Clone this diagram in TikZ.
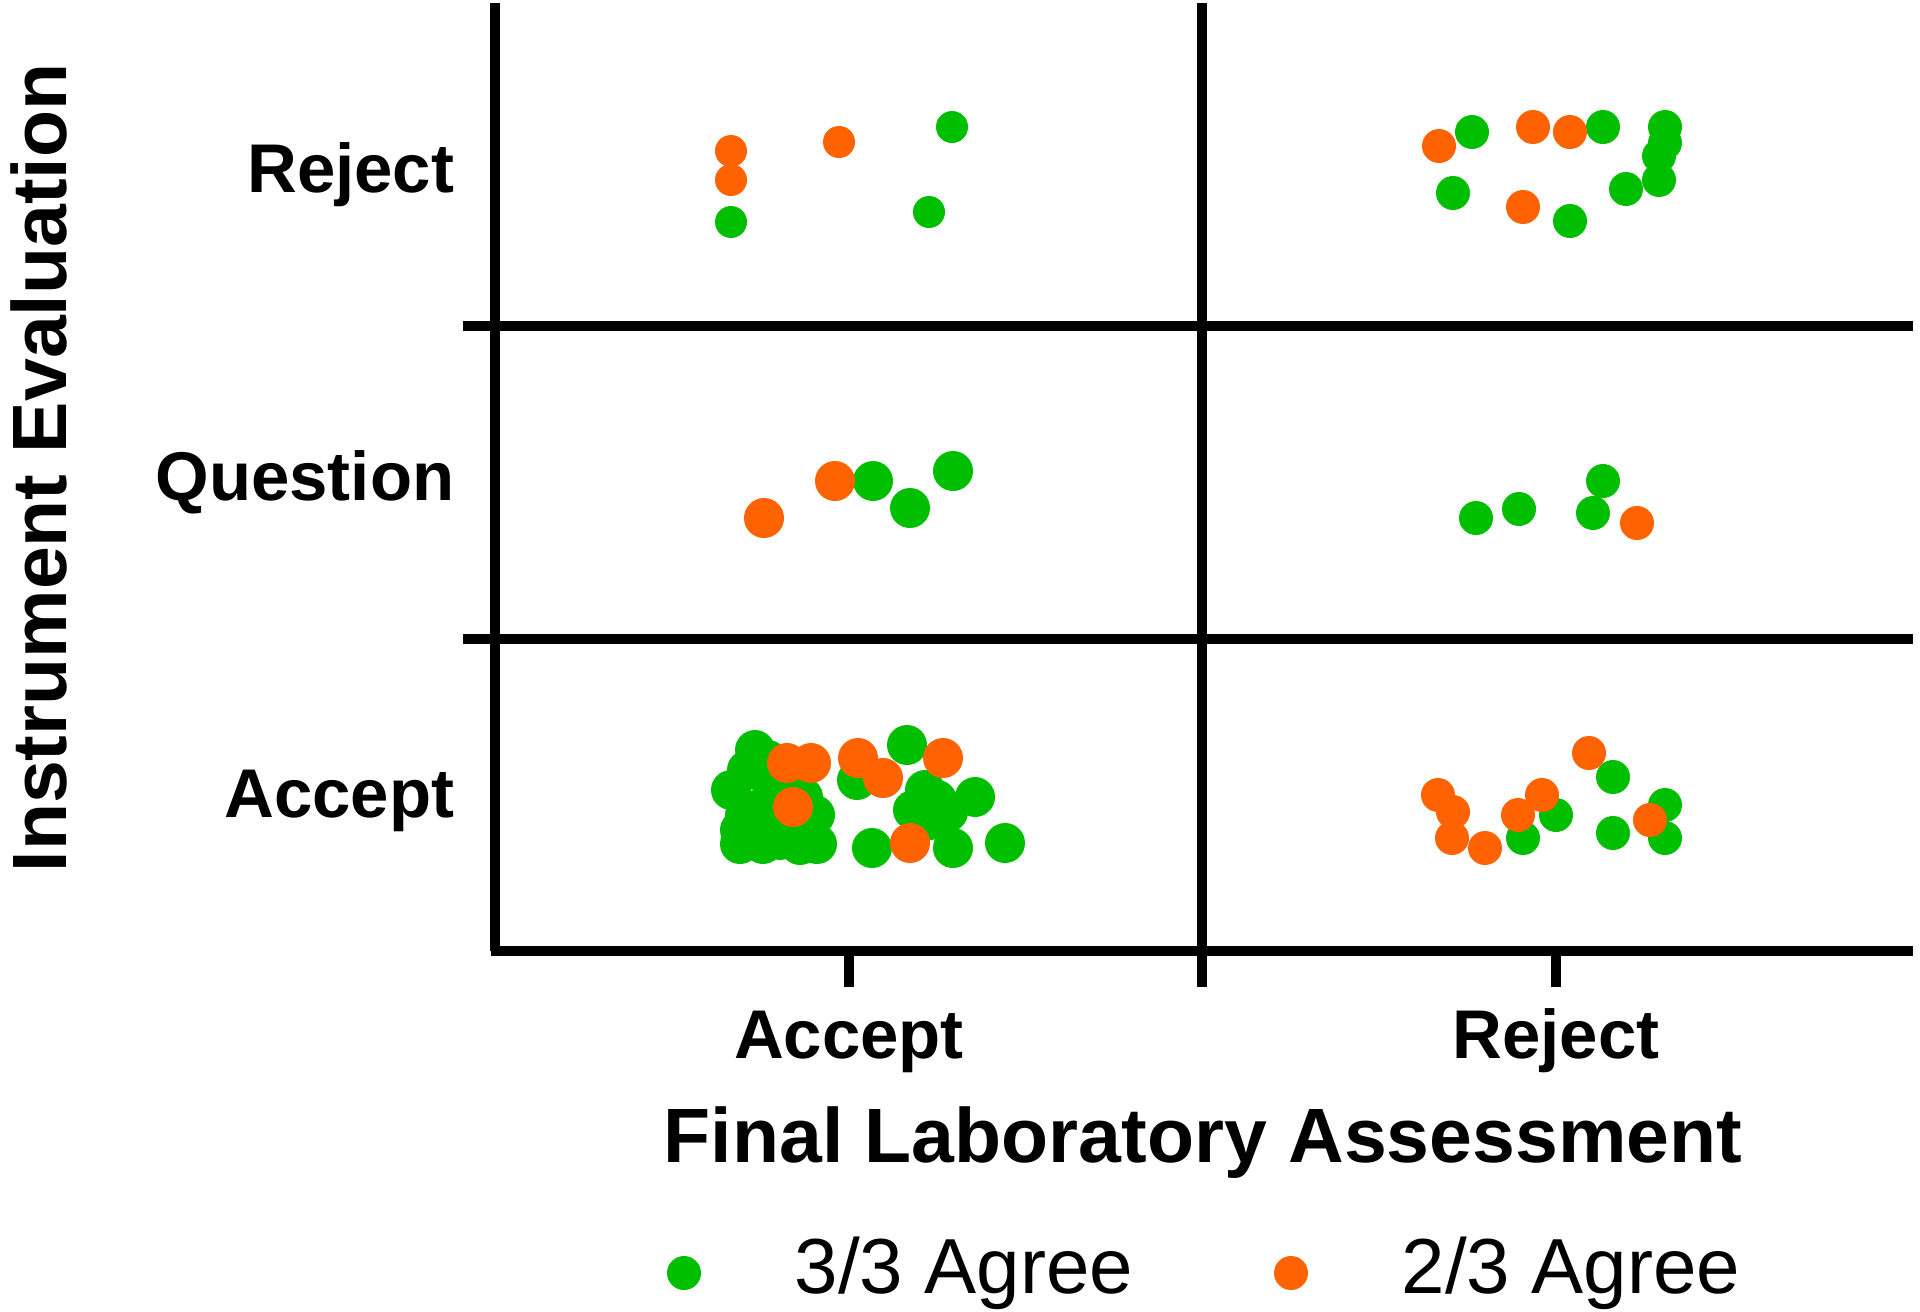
\documentclass[tikz,border=0pt]{standalone}
\usepackage{fontspec}
\setmainfont{Liberation Sans}
\definecolor{agreeg}{RGB}{0,190,0}
\definecolor{agreeo}{RGB}{255,98,0}
\begin{document}
\begin{tikzpicture}[x=0.01cm,y=-0.01cm,
  axisline/.style={line width=2.6pt,black},
  ticklab/.style={inner sep=0pt,font=\fontsize{19.6pt}{22pt}\selectfont\bfseries},
  titlelab/.style={inner sep=0pt,font=\fontsize{21.9pt}{24pt}\selectfont\bfseries},
  leglab/.style={inner sep=0pt,anchor=base west,font=\fontsize{22.2pt}{24pt}\selectfont},
  gdot/.style={fill=agreeg},
  odot/.style={fill=agreeo}]
\useasboundingbox (0,0) rectangle (1920,1311);
% grid / axes
\draw[axisline] (495,3) -- (495,951);
\draw[axisline] (1202,3) -- (1202,987);
\draw[axisline] (463,326) -- (1913,326);
\draw[axisline] (463,639) -- (1913,639);
\draw[axisline] (491,951) -- (1913,951);
\draw[axisline] (849,951) -- (849,987);
\draw[axisline] (1556,951) -- (1556,987);
% labels
\node[ticklab,anchor=base east] (rrej) at (455,192) {Reject};
\node[ticklab,anchor=base east] (rque) at (455,500) {Question};
\node[ticklab,anchor=base east] (racc) at (455,817) {Accept};
\node[ticklab,anchor=base] (cacc) at (849,1058) {Accept};
\node[ticklab,anchor=base] (crej) at (1556,1058) {Reject};
\node[titlelab,anchor=base] (xt) at (1203,1162) {Final Laboratory Assessment};
\node[titlelab,anchor=base,rotate=90] (yt) at (67,468) {Instrument Evaluation};
% legend
\fill[gdot] (684,1273) circle (17);
\node[leglab] (l1) at (794,1293) {3/3 Agree};
\fill[odot] (1291,1273) circle (17);
\node[leglab] (l2) at (1401,1293) {2/3 Agree};
% top-left
\foreach \p in {(731,222),(952,127),(929,212)} \fill[gdot] \p circle (16);
\foreach \p in {(731,151),(731,180),(839,142)} \fill[odot] \p circle (16);
% top-right
\foreach \p in {(1472,132),(1603,127),(1665,127),(1665,143),(1659,156),(1659,180),(1453,193),(1570,221),(1626,189)} \fill[gdot] \p circle (17);
\foreach \p in {(1439,146),(1533,127),(1570,132),(1523,207)} \fill[odot] \p circle (17);
% middle-left
\foreach \p in {(873,481),(910,508),(953,471)} \fill[gdot] \p circle (20);
\foreach \p in {(764,518),(835,481)} \fill[odot] \p circle (20);
% middle-right
\foreach \p in {(1476,518),(1519,509),(1603,481),(1593,513)} \fill[gdot] \p circle (17);
\foreach \p in {(1637,523)} \fill[odot] \p circle (17);
% bottom-left
\foreach \p in {(755,750),(731,790),(747,770),(740,844),(763,844),(757,810),(817,844),(803,797),(857,780),(907,745),(913,810),(937,800),(975,797),(872,848),(953,848),(1005,843),(780,840),(745,815),(770,780),(775,810),(790,826),(800,845),(815,815),(768,760),(740,830),(925,790),(930,820),(948,812)} \fill[gdot] \p circle (20);
\foreach \p in {(787,763),(811,763),(793,807),(858,758),(883,778),(943,758),(910,843)} \fill[odot] \p circle (20);
% bottom-right
\foreach \p in {(1523,838),(1556,815),(1613,777),(1613,833),(1665,805),(1665,838)} \fill[gdot] \p circle (17);
\foreach \p in {(1438,795),(1453,812),(1452,838),(1485,848),(1518,815),(1542,795),(1589,753),(1650,820)} \fill[odot] \p circle (17);
\end{tikzpicture}
\end{document}
